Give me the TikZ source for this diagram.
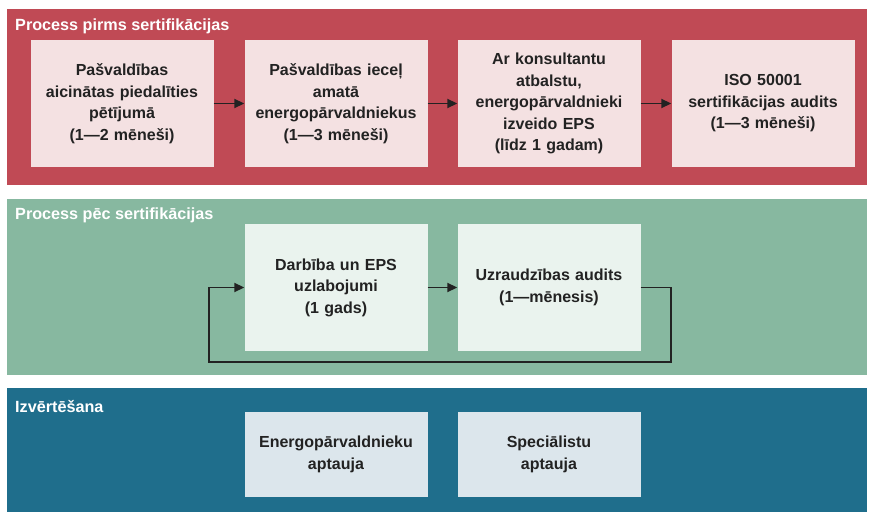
\documentclass[tikz,border=0pt]{standalone}
\usepackage{fontspec}
\setmainfont{Liberation Sans}
\usetikzlibrary{arrows.meta}
\definecolor{redband}{HTML}{C04A55}
\definecolor{redbox}{HTML}{F4E1E2}
\definecolor{greenband}{HTML}{87B8A0}
\definecolor{greenbox}{HTML}{EAF3EE}
\definecolor{blueband}{HTML}{1F6E8C}
\definecolor{bluebox}{HTML}{DCE6EC}
\definecolor{ink}{HTML}{222222}
\begin{document}
\begin{tikzpicture}[x=1pt,y=-1pt,
  band/.style={draw=none},
  title/.style={anchor=west,text=white,font=\bfseries\fontsize{16.2}{19}\selectfont,inner sep=0pt},
  box/.style={draw=none,minimum width=183pt,align=center,text=ink,
    font=\bfseries\fontsize{16}{21.5}\selectfont,inner sep=1pt,text width=181pt},
  conn/.style={draw=ink,line width=1.8pt,-{Triangle[length=10pt,width=9pt]}},
  loopline/.style={draw=ink,line width=1.8pt}
]
\useasboundingbox (0,0) rectangle (873,513);
\fill[white] (0,0) rectangle (873,513);
% bands
\fill[redband] (7,9) rectangle (867,185);
\fill[greenband] (7,199) rectangle (867,375);
\fill[blueband] (7,388) rectangle (867,512);
\node[title] (t1) at (15,26) {Process pirms sertifikācijas};
\node[title] (t2) at (15,215) {Process pēc sertifikācijas};
\node[title] (t3) at (15,407) {Izvērtēšana};
% red boxes
\node[box,fill=redbox,minimum height=127pt] (a1) at (122,103.5) {Pašvaldības\\aicinātas piedalīties\\pētījumā\\(1—2 mēneši)};
\node[box,fill=redbox,minimum height=127pt] (a2) at (336,103.5) {Pašvaldības ieceļ\\amatā\\energopārvaldniekus\\(1—3 mēneši)};
\node[box,fill=redbox,minimum height=127pt] (a3) at (549,103.5) {Ar konsultantu\\atbalstu,\\energopārvaldnieki\\izveido EPS\\(līdz 1 gadam)};
\node[box,fill=redbox,minimum height=127pt] (a4) at (763,103.5) {ISO 50001\\sertifikācijas audits\\(1—3 mēneši)};
\draw[conn] (a1) -- (a2);
\draw[conn] (a2) -- (a3);
\draw[conn] (a3) -- (a4);
% green boxes
\node[box,fill=greenbox,minimum height=127pt] (b1) at (336,287.5) {Darbība un EPS\\uzlabojumi\\(1 gads)};
\node[box,fill=greenbox,minimum height=127pt] (b2) at (549,287.5) {Uzraudzības audits\\(1—mēnesis)};
\coordinate (l1) at (671,287.5);
\coordinate (l2) at (671,362);
\coordinate (l3) at (209,362);
\coordinate (l4) at (209,287.5);
\draw[conn] (b1) -- (b2);
\draw[loopline,line join=miter] (b2.east) -- (l1) -- (l2) -- (l3) -- (l4) -- ([xshift=-10pt]b1.west);
\draw[conn] (l4) -- (b1.west);
% blue boxes
\node[box,fill=bluebox,minimum height=85pt] (c1) at (336,454.5) {Energopārvaldnieku\\aptauja};
\node[box,fill=bluebox,minimum height=85pt] (c2) at (549,454.5) {Speciālistu\\aptauja};
\end{tikzpicture}
\end{document}
